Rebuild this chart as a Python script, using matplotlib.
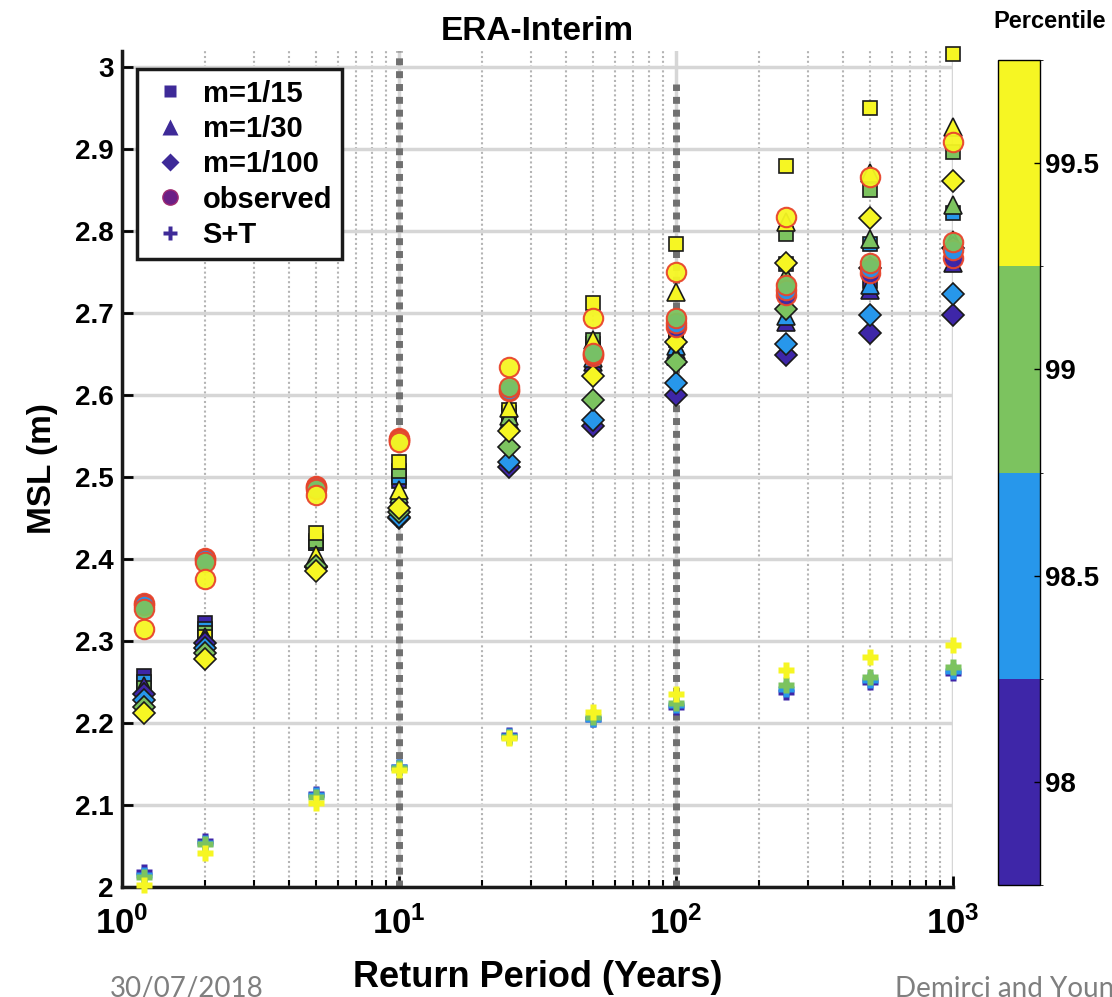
import numpy as np
import matplotlib
matplotlib.use('Agg')
import matplotlib.pyplot as plt
from matplotlib.colors import ListedColormap, BoundaryNorm
from matplotlib.cm import ScalarMappable
from matplotlib.lines import Line2D

plt.rcParams['font.family'] = ['Liberation Sans', 'DejaVu Sans']
plt.rcParams['mathtext.fontset'] = 'custom'
plt.rcParams['mathtext.bf'] = 'Liberation Sans:bold'

# return periods (years) and percentile thresholds
return_period = [1.2, 2, 5, 10, 25, 50, 100, 250, 500, 1000]
percentiles = [98, 98.5, 99, 99.5]
pct_colors = ['#3e26a8', '#2797eb', '#7cc35f', '#f6f623']

# MSL (m), one row per percentile
m15 = [[2.258, 2.322, 2.420, 2.495, 2.572, 2.655, 2.667, 2.730, 2.740, 2.770],
       [2.250, 2.315, 2.420, 2.500, 2.575, 2.662, 2.672, 2.760, 2.785, 2.822],
       [2.243, 2.310, 2.422, 2.508, 2.578, 2.668, 2.680, 2.797, 2.850, 2.897],
       [2.232, 2.305, 2.432, 2.518, 2.582, 2.712, 2.785, 2.880, 2.950, 3.016]]
m30 = [[2.245, 2.305, 2.400, 2.470, 2.565, 2.640, 2.655, 2.690, 2.728, 2.762],
       [2.238, 2.300, 2.400, 2.475, 2.570, 2.645, 2.660, 2.697, 2.735, 2.790],
       [2.230, 2.295, 2.400, 2.480, 2.575, 2.655, 2.648, 2.745, 2.791, 2.832],
       [2.222, 2.290, 2.405, 2.485, 2.585, 2.668, 2.726, 2.811, 2.871, 2.927]]
m100 = [[2.235, 2.298, 2.390, 2.450, 2.513, 2.562, 2.600, 2.649, 2.676, 2.698],
        [2.228, 2.292, 2.390, 2.452, 2.518, 2.570, 2.615, 2.663, 2.698, 2.724],
        [2.220, 2.286, 2.392, 2.458, 2.537, 2.594, 2.640, 2.705, 2.755, 2.780],
        [2.212, 2.278, 2.386, 2.463, 2.557, 2.624, 2.665, 2.761, 2.816, 2.862]]
observed = [[2.347, 2.402, 2.489, 2.548, 2.605, 2.648, 2.683, 2.722, 2.749, 2.767],
            [2.344, 2.400, 2.488, 2.546, 2.607, 2.650, 2.688, 2.728, 2.755, 2.777],
            [2.339, 2.396, 2.486, 2.545, 2.610, 2.652, 2.694, 2.734, 2.762, 2.787],
            [2.315, 2.376, 2.478, 2.543, 2.634, 2.694, 2.750, 2.817, 2.866, 2.909]]
s_t = [[2.018, 2.056, 2.114, 2.147, 2.185, 2.205, 2.220, 2.238, 2.250, 2.261],
       [2.015, 2.054, 2.112, 2.146, 2.184, 2.205, 2.222, 2.242, 2.253, 2.264],
       [2.012, 2.052, 2.110, 2.145, 2.183, 2.207, 2.225, 2.246, 2.256, 2.268],
       [2.003, 2.042, 2.103, 2.143, 2.182, 2.213, 2.235, 2.265, 2.281, 2.295]]

fig = plt.figure(figsize=(11.12, 9.97), dpi=100)
ax = fig.add_axes([0.1097, 0.1103, 0.7473, 0.8385])

ax.set_xscale('log')
ax.set_xlim(1, 1000)
ax.set_ylim(2, 3.02)

# grid
ax.set_yticks(np.arange(2, 3.01, 0.1))
ax.set_yticklabels(['2', '2.1', '2.2', '2.3', '2.4', '2.5', '2.6', '2.7', '2.8', '2.9', '3'])
ax.set_xticks([1, 10, 100, 1000])
ax.set_xticklabels([r'$\mathbf{10^{0}}$', r'$\mathbf{10^{1}}$', r'$\mathbf{10^{2}}$', r'$\mathbf{10^{3}}$'])
ax.grid(True, which='major', axis='y', color='#d6d6d6', lw=2.5, zorder=0)
ax.grid(True, which='major', axis='x', color='#d6d6d6', lw=2.5, zorder=0)
ax.grid(True, which='minor', axis='x', color='#b4b4b4', lw=1.5, ls=(0, (1, 1.3)), zorder=0)
ax.set_axisbelow(True)

# thick dotted markers at 10 and 100 years
ax.plot([10, 10], [2, 3.02], color='#707070', lw=5, ls=(0, (1, 0.85)), zorder=1)
ax.plot([100, 100], [2, 2.98], color='#707070', lw=5, ls=(0, (1, 0.85)), zorder=1)

for i, p in enumerate(percentiles):
    ax.plot(return_period, m15[i], 's', ms=10, mfc=pct_colors[i], mec='#1a1a1a', mew=1.2, zorder=3, clip_on=False)
for i, p in enumerate(percentiles):
    ax.plot(return_period, m30[i], '^', ms=13, mfc=pct_colors[i], mec='#1a1a1a', mew=1.2, zorder=3, clip_on=False)
for i, p in enumerate(percentiles):
    ax.plot(return_period, m100[i], 'D', ms=11, mfc=pct_colors[i], mec='#1a1a1a', mew=1.2, zorder=3, clip_on=False)
for i, p in enumerate(percentiles):
    ax.plot(return_period, observed[i], 'o', ms=14, mfc=pct_colors[i], mec='#e8452c', mew=1.5, alpha=0.95, zorder=3, clip_on=False)
for i, p in enumerate(percentiles):
    ax.plot(return_period, s_t[i], 'P', ms=12, mfc=pct_colors[i], mec='none', zorder=3, clip_on=False)

for s in ['top', 'right']:
    ax.spines[s].set_visible(False)
for s in ['left', 'bottom']:
    ax.spines[s].set_linewidth(2.5)
    ax.spines[s].set_color('#1a1a1a')

ax.tick_params(which='major', direction='in', length=8, width=2, labelsize=20, pad=6)
ax.tick_params(which='minor', direction='in', length=5, width=1.5)
ax.tick_params(axis='x', labelsize=25, pad=14)
for lab in ax.get_yticklabels():
    lab.set_fontweight('bold')

ax.set_xlabel('Return Period (Years)', fontsize=26, fontweight='bold', labelpad=14)
ax.set_ylabel('MSL (m)', fontsize=24, fontweight='bold', labelpad=12)
ax.set_title('ERA-Interim', fontsize=24, fontweight='bold', pad=8)

# legend with dark blue handles
lc = '#3e2a98'
handles = [Line2D([], [], ls='none', marker='s', ms=8, mfc=lc, mec='none'),
           Line2D([], [], ls='none', marker='^', ms=11, mfc=lc, mec='none'),
           Line2D([], [], ls='none', marker='D', ms=9, mfc=lc, mec='none'),
           Line2D([], [], ls='none', marker='o', ms=11, mfc='#6b1f86', mec='#a02a70'),
           Line2D([], [], ls='none', marker='P', ms=10, mfc=lc, mec='none')]
names = ['m=1/15', 'm=1/30', 'm=1/100', 'observed', 'S+T']
leg = ax.legend(handles, names, loc='upper left', bbox_to_anchor=(0.018, 0.978), borderaxespad=0,
                prop={'size': 21, 'weight': 'bold'}, frameon=True, fancybox=False, framealpha=1,
                handletextpad=0.3, labelspacing=0.25, borderpad=0.35, handlelength=1.6)
leg.get_frame().set_edgecolor('#1a1a1a')
leg.get_frame().set_linewidth(2.5)

# colorbar
cmap = ListedColormap(pct_colors)
norm = BoundaryNorm([97.75, 98.25, 98.75, 99.25, 99.75], cmap.N)
cax = fig.add_axes([0.8975, 0.1123, 0.038, 0.8275])
cb = fig.colorbar(ScalarMappable(norm=norm, cmap=cmap), cax=cax, ticks=percentiles)
cb.ax.set_yticklabels(['98', '98.5', '99', '99.5'])
cb.ax.tick_params(labelsize=20, length=4, width=1, direction='in')
for lab in cb.ax.get_yticklabels():
    lab.set_fontweight('bold')
cb.outline.set_linewidth(1)
fig.text(0.944, 0.978, 'Percentile', fontsize=17, fontweight='bold', ha='center', va='center')

# slide footer (cut off at bottom, as in the source slide)
fig.text(0.099, 0.021, '30/07/2018', fontsize=20, color='#7f7f7f', family=['Lato', 'DejaVu Sans'], va='top')
fig.text(0.805, 0.021, 'Demirci and Young', fontsize=20, color='#7f7f7f', family=['Lato', 'DejaVu Sans'], va='top')

fig.savefig('out.png', dpi=100)
